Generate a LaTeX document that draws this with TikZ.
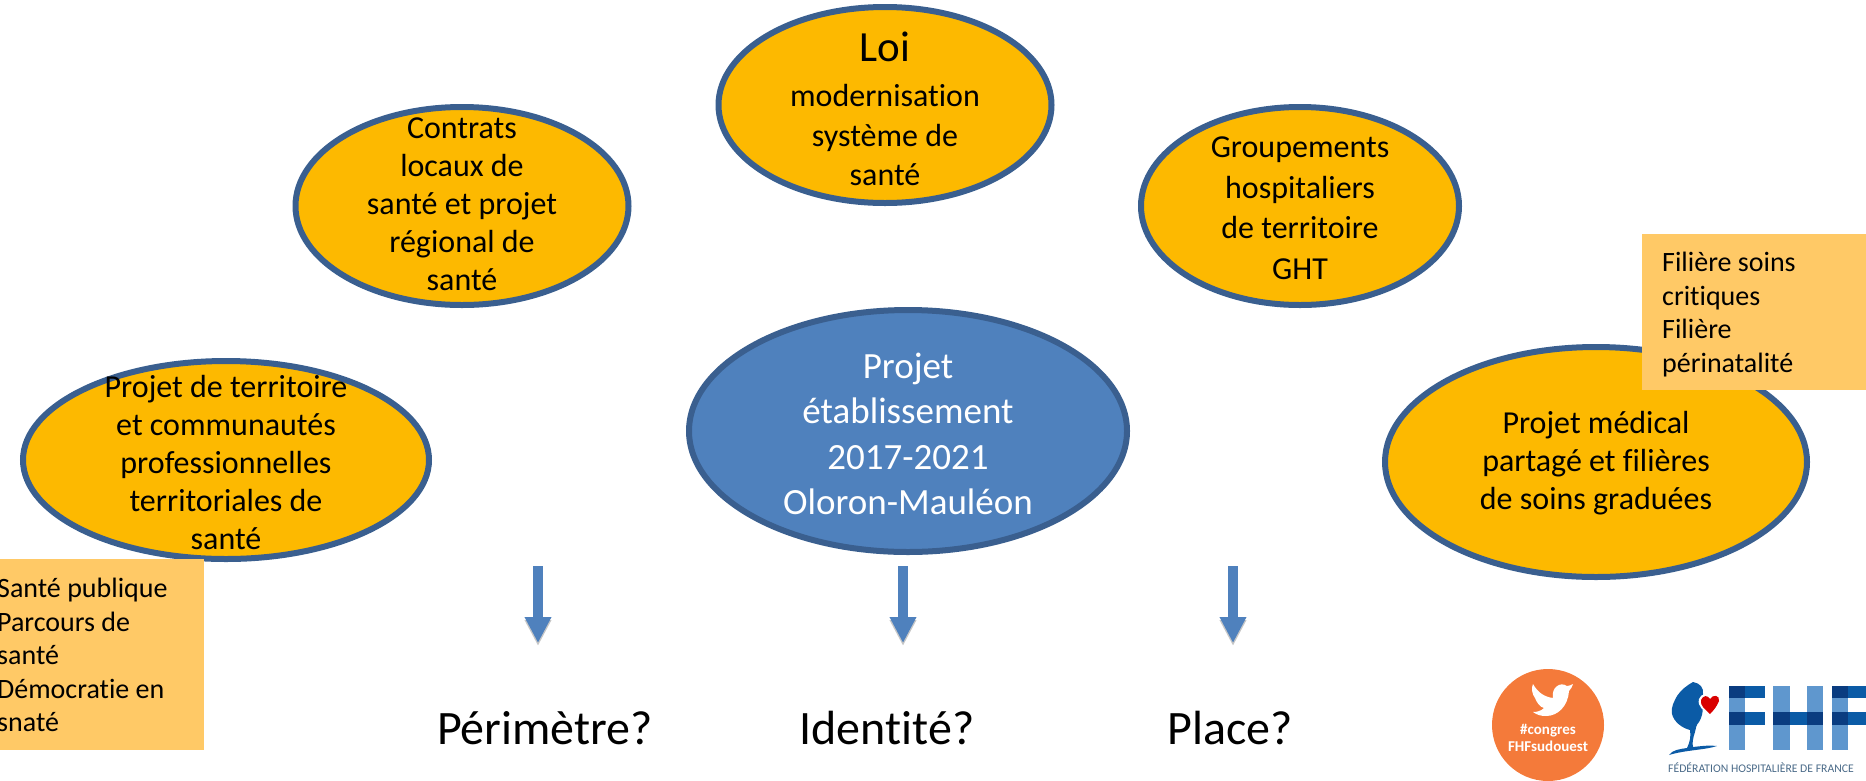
\documentclass[tikz,border=0pt]{standalone}
\usepackage{fontspec}
\setmainfont[Ligatures=NoCommon]{Carlito}
\usetikzlibrary{positioning,shapes.geometric,arrows.meta}
\definecolor{bubblefill}{HTML}{FDB900}
\definecolor{bubbleline}{HTML}{3A5F8F}
\definecolor{boxfill}{HTML}{FFC966}
\definecolor{mainblue}{HTML}{4F81BD}
\definecolor{tweetorange}{HTML}{F47A3A}
\definecolor{fhflight}{HTML}{5F97CE}
\definecolor{fhfmid}{HTML}{0B5BA6}
\definecolor{fhfdark}{HTML}{0A3C80}
\definecolor{fhfgrey}{HTML}{4A6A88}
\tikzset{
	bubble/.style={ellipse,draw=bubbleline,line width=6pt,fill=bubblefill,inner sep=0pt},
	bubbletext/.style={align=center,font=\fontsize{32}{38}\selectfont},
	sidebox/.style={fill=boxfill,inner sep=0pt,anchor=north west},
	sidetext/.style={align=left,anchor=north west,inner sep=0pt,font=\fontsize{28}{33.5}\selectfont},
	question/.style={font=\fontsize{48}{54}\selectfont},
	downarrow/.style={-{Triangle[width=25pt,length=26pt]},mainblue,line width=10pt},
	downshadow/.style={-{Triangle[width=25pt,length=26pt]},black!22,line width=10pt}
}
\begin{document}
\begin{tikzpicture}[x=1pt,y=-1pt]
		\useasboundingbox (0,0) rectangle (1866,780);
		\node[bubble,minimum width=333pt,minimum height=196pt] (loi) at (885,105) {};
		\node[align=center,font=\fontsize{32}{39.5}\selectfont] (loitext) at (885,109) {{\fontsize{43}{50}\selectfont Loi}\\[5.5pt]modernisation\\système de\\santé};
		\node[bubble,minimum width=333pt,minimum height=198pt] (contrats) at (462,206) {};
		\node[bubbletext] (contratstext) at (462,204) {Contrats\\locaux de\\santé et projet\\régional de\\santé};
		\node[bubble,minimum width=318pt,minimum height=198pt] (ght) at (1300,206) {};
		\node[align=center,font=\fontsize{32}{40.5}\selectfont] (ghttext) at (1300,208) {Groupements\\hospitaliers\\de territoire\\GHT};
		\node[bubble,minimum width=406pt,minimum height=198pt] (territoire) at (226,460) {};
		\node[bubbletext] (territoiretext) at (226,462) {Projet de territoire\\et communautés\\professionnelles\\territoriales de\\santé};
		\node[bubble,fill=mainblue,minimum width=438pt,minimum height=242pt] (etab) at (908,431) {};
		\node[align=center,white,font=\fontsize{37}{45.5}\selectfont] (etabtext) at (908,434) {Projet\\établissement\\2017-2021\\Oloron-Mauléon};
		\node[bubble,minimum width=422pt,minimum height=230pt] (medical) at (1596,462) {};
		\node[bubbletext] (medicaltext) at (1596,463) {Projet médical\\partagé et filières\\de soins graduées};
		\node[sidebox,minimum width=224pt,minimum height=156pt] (filiere) at (1642,234) {};
		\node[sidetext] (filieretext) at (1662,252) {Filière soins\\critiques\\Filière\\périnatalité};
		\node[sidebox,minimum width=204pt,minimum height=191pt] (sante) at (0,559) {};
		\node[sidetext] (santetext) at (-3,578) {Santé publique\\Parcours de\\santé\\Démocratie en\\snaté};
		\coordinate (a1) at (538,566);
		\coordinate (a2) at (538,643);
		\coordinate (b1) at (903,566);
		\coordinate (b2) at (903,643);
		\coordinate (c1) at (1233,566);
		\coordinate (c2) at (1233,643);
		\draw[downshadow] ([shift={(0,3)}]a1) -- ([shift={(0,3)}]a2);
		\draw[downshadow] ([shift={(0,3)}]b1) -- ([shift={(0,3)}]b2);
		\draw[downshadow] ([shift={(0,3)}]c1) -- ([shift={(0,3)}]c2);
		\draw[downarrow] (a1) -- (a2);
		\draw[downarrow] (b1) -- (b2);
		\draw[downarrow] (c1) -- (c2);
		\node[question] (perimetre) at (545,728) {Périmètre?};
		\node[question] (identite) at (887,728) {Identité?};
		\node[question] (place) at (1230,728) {Place?};
		\fill[tweetorange] (1548,725) circle (56);
		\fill[white] (1533,684) .. controls (1538,693) and (1545,697) .. (1553,698) .. controls (1551,688) and (1560,681) .. (1567,686) .. controls (1569,686) and (1571,685) .. (1573,684) .. controls (1572,687) and (1571,689) .. (1569,691) .. controls (1568,706) and (1558,716) .. (1546,716) .. controls (1541,716) and (1537,715) .. (1533,712) .. controls (1537,712) and (1541,711) .. (1544,708) .. controls (1540,707) and (1537,703) .. (1535,698) .. controls (1532,694) and (1531,688) .. (1533,684) -- cycle;
		\node[white,font=\bfseries\fontsize{15}{15}\selectfont] (congres) at (1548,731) {\#congres};
		\node[white,font=\bfseries\fontsize{15}{15}\selectfont] (sudouest) at (1548,746) {FHFsudouest};
		\fill[fhfmid] (1693,682) .. controls (1700,683) and (1704,688) .. (1703,694) .. controls (1702,703) and (1705,712) .. (1699,722) .. controls (1696,725) and (1696,728) .. (1695,732) .. controls (1693,738) and (1692,743) .. (1693,747) .. controls (1702,746) and (1710,745) .. (1717,746) .. controls (1705,750) and (1685,750) .. (1669,755) .. controls (1672,750) and (1680,749) .. (1687,748) .. controls (1690,742) and (1691,736) .. (1690,730) .. controls (1682,728) and (1674,722) .. (1672,714) .. controls (1671,706) and (1674,702) .. (1677,696) .. controls (1681,690) and (1686,686) .. (1693,682) -- cycle;
		\fill[white] (1710,717) .. controls (1704,710) and (1697,707) .. (1699,699) .. controls (1701,693) and (1708,693) .. (1710,697) .. controls (1714,692) and (1722,693) .. (1720,700) .. controls (1719,707) and (1714,712) .. (1710,717) -- cycle;
		\fill[red!85!black] (1710,714) .. controls (1705,709) and (1700,706) .. (1701,700) .. controls (1703,695) and (1708,695) .. (1710,699) .. controls (1713,694) and (1720,695) .. (1719,701) .. controls (1717,706) and (1714,710) .. (1710,714) -- cycle;
		\fill[fhflight] (1729,686) rectangle (1745,750);
		\fill[fhfmid] (1745,686) rectangle (1765,698);
		\fill[fhfdark] (1729,686) rectangle (1745,698);
		\fill[fhfmid] (1745,712) rectangle (1765,725);
		\fill[fhfdark] (1729,712) rectangle (1745,725);
		\fill[fhflight] (1773,686) rectangle (1790,750);
		\fill[fhflight] (1807,686) rectangle (1823,750);
		\fill[fhfmid] (1790,712) rectangle (1807,725);
		\fill[fhfdark] (1773,712) rectangle (1790,725);
		\fill[fhfdark] (1807,712) rectangle (1823,725);
		\fill[fhflight] (1832,686) rectangle (1848,750);
		\fill[fhfmid] (1848,686) rectangle (1866,698);
		\fill[fhfdark] (1832,686) rectangle (1848,698);
		\fill[fhfmid] (1848,712) rectangle (1866,725);
		\fill[fhfdark] (1832,712) rectangle (1848,725);
		\node[fhfgrey,anchor=west,inner sep=0pt,font=\fontsize{11.7}{14}\selectfont] (federation) at (1668,768) {FÉDÉRATION HOSPITALIÈRE DE FRANCE};
	\end{tikzpicture}
\end{document}
